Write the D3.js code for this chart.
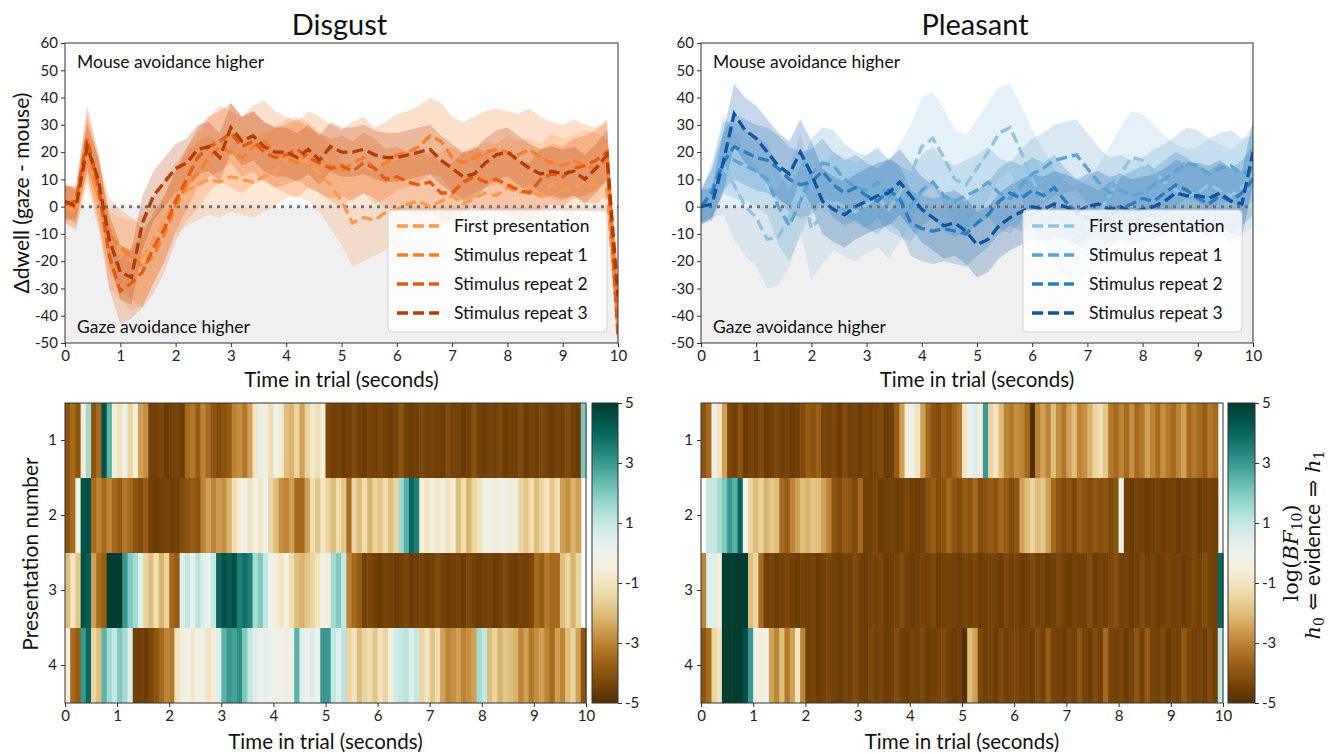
<!DOCTYPE html>
<html><head><meta charset="utf-8">
<script src="https://cdn.jsdelivr.net/npm/d3@7"></script>
<style>body{margin:0;background:#fff;} svg{display:block;}</style>
</head><body><svg id="c" width="1335" height="754"></svg>
<script>
// ---------------- DATA ----------------
const times = [0,0.2,0.4,0.6,0.8,1,1.2,1.4,1.6,1.8,2,2.2,2.4,2.6,2.8,3,3.2,3.4,3.6,3.8,4,4.2,4.4,4.6,4.8,5,5.2,5.4,5.6,5.8,6,6.2,6.4,6.6,6.8,7,7.2,7.4,7.6,7.8,8,8.2,8.4,8.6,8.8,9,9.2,9.4,9.6,9.8,10];
const seriesNames = ["First presentation","Stimulus repeat 1","Stimulus repeat 2","Stimulus repeat 3"];
const yTicksTop = [-50,-40,-30,-20,-10,0,10,20,30,40,50,60];
const xTicks = [0,1,2,3,4,5,6,7,8,9,10];
const rowLabels = [1,2,3,4];
const cbarTicks = [5,3,1,-1,-3,-5];
const disgustColors = ["#fd9a4e","#f77f2a","#e35a10","#b23c06"];
const pleasantColors = ["#91c3e0","#5ba3d3","#2d7dbc","#0c56a0"];

// Disgust
const disgustFirstMean = [0,-2,20,5,-15,-17,-20,-19,-12,-5,3,6,8,10,9,11,10,9,11,13,17,18,16,12,8,2,-6,-4,-5,-2,-1,1,2,0,2,4,1,3,5,4,7,5,6,4,8,6,7,9,8,6,-45];
const disgustFirstLo = [-6,-9,8,-8,-30,-34,-38,-36,-28,-20,-10,-7,-5,-3,-4,-2,-3,-4,-2,0,3,4,2,-2,-8,-14,-22,-20,-18,-16,-13,-11,-9,-10,-8,-6,-8,-6,-4,-5,-3,-5,-4,-6,-2,-4,-3,-1,-3,-5,-50];
const disgustFirstHi = [8,7,32,18,-2,-4,-5,-3,3,10,16,20,24,26,24,27,26,25,27,29,32,33,31,27,23,17,12,14,13,16,17,19,20,18,20,22,19,21,24,23,26,24,25,23,27,25,26,28,27,25,-38];
const disgustRep1Mean = [1,0,21,6,-10,-15,-18,-22,-18,-10,0,8,12,18,22,20,18,22,24,20,18,16,20,18,15,13,16,18,14,16,19,20,22,26,24,18,16,18,20,21,20,19,21,18,16,15,17,15,14,17,-40];
const disgustRep1Lo = [-6,-8,10,-6,-24,-30,-34,-37,-32,-24,-13,-5,-1,5,9,7,5,8,10,7,5,3,7,5,2,0,3,5,1,3,6,7,9,12,11,5,3,5,7,8,7,6,8,5,3,2,4,2,1,4,-48];
const disgustRep1Hi = [8,7,34,19,3,-1,-4,-8,-4,4,14,22,27,33,37,35,33,37,39,35,33,31,35,33,30,28,31,33,29,31,34,35,37,40,38,33,31,33,35,36,35,34,36,33,31,30,32,30,29,32,-32];
const disgustRep2Mean = [1,2,25,8,-18,-31,-28,-24,-15,-8,2,10,18,22,24,27,22,24,20,18,19,21,18,16,14,15,13,16,14,10,11,9,8,9,5,5,9,11,9,10,8,6,5,10,12,11,14,15,17,20,-48];
const disgustRep2Lo = [-5,-4,13,-4,-30,-43,-41,-37,-28,-20,-9,-1,7,11,13,16,11,13,9,7,8,10,7,5,3,4,2,5,3,-1,0,-2,-3,-2,-6,-6,-2,0,-2,-1,-3,-5,-6,-1,1,0,3,4,6,9,-50];
const disgustRep2Hi = [7,8,37,20,-6,-19,-15,-11,-2,4,13,21,29,33,35,38,33,35,31,29,30,32,29,27,25,26,24,27,25,21,22,20,19,20,16,16,20,22,20,21,19,17,16,21,23,22,25,26,28,31,-40];
const disgustRep3Mean = [2,0,22,10,-12,-24,-26,-6,4,9,14,16,21,22,18,29,24,26,22,20,20,18,21,17,22,20,20,21,19,18,18,19,20,21,17,14,11,12,16,19,20,17,14,12,13,12,13,10,14,19,-33];
const disgustRep3Lo = [-4,-6,14,2,-21,-34,-36,-16,-5,0,5,7,12,13,9,20,15,17,13,11,11,9,12,8,13,11,11,12,10,9,9,10,11,12,8,5,2,3,7,10,11,8,5,3,4,3,4,1,5,10,-40];
const disgustRep3Hi = [8,6,30,18,-3,-14,-16,4,13,18,23,25,30,31,27,38,33,35,31,29,29,27,30,26,31,29,29,30,28,27,27,28,29,30,26,23,20,21,25,28,29,26,23,21,22,21,22,19,23,28,-26];

// Pleasant
const pleasantFirstMean = [0,5,15,8,0,-4,-12,-11,-4,9,-8,-3,2,0,-2,1,3,-1,5,12,22,25,18,10,8,14,20,27,29,20,10,3,-4,-9,-11,-8,-3,4,12,18,17,13,9,6,4,5,8,6,4,7,12];
const pleasantFirstLo = [-6,-4,-3,-12,-18,-22,-30,-29,-22,-9,-27,-21,-16,-18,-20,-17,-15,-19,-13,-6,4,8,1,-7,-9,-3,3,10,13,4,-7,-14,-21,-26,-28,-25,-20,-13,-5,1,0,-4,-8,-11,-13,-12,-9,-11,-13,-10,-8];
const pleasantFirstHi = [6,14,34,28,20,15,6,7,14,27,10,15,20,18,16,19,21,17,23,30,40,42,36,28,26,32,38,44,45,37,28,21,14,9,7,10,15,22,29,35,34,30,26,23,21,22,25,23,21,24,30];
const pleasantRep1Mean = [0,6,18,17,15,13,10,0,-7,2,12,16,15,10,7,6,9,4,2,0,6,9,4,2,4,6,9,5,3,8,12,14,17,18,19,14,9,5,6,4,5,8,10,13,16,15,12,14,15,12,14];
const pleasantRep1Lo = [-6,-4,5,3,2,0,-3,-14,-20,-11,-1,3,2,-3,-6,-8,-4,-9,-11,-13,-7,-4,-9,-11,-9,-7,-4,-8,-10,-5,-1,1,4,5,6,1,-4,-8,-7,-9,-8,-5,-3,0,3,2,-1,1,2,-1,2];
const pleasantRep1Hi = [6,16,31,31,28,26,23,13,6,15,25,29,28,23,20,19,22,17,15,13,19,22,17,15,17,19,22,18,16,21,25,27,30,31,32,27,22,18,19,17,18,21,23,26,29,28,25,27,28,25,26];
const pleasantRep2Mean = [0,5,16,22,20,18,17,14,10,8,9,13,8,5,7,4,2,6,3,-6,-8,-9,-8,-9,-10,-6,-3,2,5,3,6,4,7,2,-2,-4,-6,-3,-1,1,3,2,5,8,6,3,1,4,2,5,10];
const pleasantRep2Lo = [-7,-4,6,10,8,6,5,2,-2,-4,-3,1,-4,-7,-5,-8,-10,-6,-9,-18,-20,-21,-20,-21,-22,-18,-15,-10,-7,-9,-6,-8,-5,-10,-14,-16,-18,-15,-13,-11,-9,-10,-7,-4,-6,-9,-11,-8,-10,-7,-3];
const pleasantRep2Hi = [6,14,27,34,32,30,29,26,22,20,21,25,20,17,19,16,14,18,15,6,4,3,4,3,2,6,9,14,17,15,18,16,19,14,10,8,6,9,11,13,15,14,17,20,18,15,13,16,14,17,22];
const pleasantRep3Mean = [0,1,16,34,28,25,20,15,12,20,12,2,-1,-3,0,2,4,5,9,4,-1,-4,-7,-6,-9,-14,-12,-7,-4,-2,0,-1,1,0,-2,0,1,-1,0,-2,-1,0,2,5,4,4,3,5,2,1,20];
const pleasantRep3Lo = [-6,-5,5,22,16,13,8,3,0,8,0,-10,-13,-15,-12,-10,-8,-7,-3,-8,-13,-16,-19,-18,-21,-26,-24,-19,-16,-14,-12,-13,-11,-12,-14,-12,-11,-13,-12,-14,-13,-12,-10,-7,-8,-8,-9,-7,-10,-11,8];
const pleasantRep3Hi = [6,7,27,45,40,37,32,27,24,32,24,14,11,9,12,14,16,17,21,16,11,8,5,6,3,-2,0,5,8,10,12,11,13,12,10,12,13,11,12,10,11,12,14,17,16,16,15,17,14,13,32];

// Heatmaps: log(BF10) per 0.1 s bin (100 bins), rows = presentation number
const binWidth = 0.1;
const disgustRow1 = [-4,-3.5,-4,-0.5,1.5,-4,-3.5,4.5,2.5,-0.5, -1,0,-1.5,-0.5,-2.5,-2.8,-4.5,-4.5,-4.3,-4.6, -4.5,-4.4,-4.6,-3.5,-3.2,-3.8,-3,-3.5,-4,-4.2, -4,-3.8,-3,-2.8,-3.2,-2.5,-1,0.3,-0.5,-1.2, 0,-0.8,-2,-2.2,-1.5,-2.5,-1.5,-0.8,-1.2,-0.5, -4.3,-4.5,-4.4,-4.6,-4.5,-4.2,-4.5,-4.6,-4.4,-4.5, -4.3,-4.5,-4.6,-4.4,-4.0,-4.5,-4.6,-4.5,-4.3,-4.5, -4.4,-4.5,-4.6,-4.2,-4.5,-4.4,-4.6,-4.5,-4.1,-4.5, -4.6,-4.4,-4.5,-4.3,-4.6,-4.5,-4.5,-4.2,-4.6,-4.4, -4.5,-4.3,-4.5,-4.6,-4.4,-4.5,-4.2,-4.5,-4.6,2];
const disgustRow2 = [-4,-3.5,0,4.5,4.5,-3.5,-3,-3.5,-3,-3.5, -3.8,-3.2,-3.5,-4,-4.2,-3.8,-4.5,-4.6,-4.5,-4.4, -4.6,-4.5,-4.2,-4,-3.8,-4,-3,-2.5,-3,-2.6, -2.8,-2.2,-1.2,-0.5,0,-1,-0.3,-0.8,0,-1.5, -2,-2.8,-3,-2.5,-3.5,-3.5,-2.5,-1.2,-1.8,-1, -1.5,-2,-1.2,-1.8,-3.5,-1.5,-2,-1.2,-2.2,-1.5, -1.8,-1.2,-2,-1.5,1.5,2.5,4,3.5,-0.5,-1, -0.3,-0.8,-0.5,-1,-0.6,-2,-1.2,-2.2,-1.5,-1, -0.2,0,-0.5,-0.3,0,-0.6,-0.2,-1.5,-1.8,-1.2, -2,-1.5,-1,-1.8,-1.2,-2.5,-2.8,-2.2,-2.5,null];
const disgustRow3 = [-2,-1,-1.8,4.5,4.2,-2.5,-3.5,-3.8,5,5, 5,3,2,1.5,0.5,-1.5,-2,-1.2,-2.2,-1.5, -3.5,-3.8,0.5,1,0.3,1.2,0.5,0.2,1,4, 4.5,4.2,4.5,3.5,3.8,3.5,1.5,2,1,0, -0.5,-1,-0.3,-1.2,-2,-2.2,-1.8,-1.5,-1,-0.3, -0.5,1.5,2,1,-3,-3.5,-3.8,-4.5,-4.3,-4.5, -4.6,-4.4,-4.5,-4.6,-4.5,-4.3,-4.6,-4.5,-4.4,-4.6, -4.5,-4.2,-4.5,-4.6,-4.5,-4.4,-4.6,-4.3,-4.5,-4.6, -4.5,-4.4,-4.6,-4.5,-4.2,-4.5,-4.6,-4.4,-4.5,-4.3, -3.5,-3.8,-3.2,-3.5,-3.5,-2,-1.5,-2.2,-1.5,null];
const disgustRow4 = [-0.5,-3.5,-3.8,3,4,-1.5,-2,2.5,1.5,1, 2,1.5,0.5,-4.5,-4.5,-4.6,-4.3,-4,-3.5,-3, -3.2,-1,-0.5,0,-0.8,-0.3,0,-1,-0.5,0.5, 2.5,3,2.8,3.2,2,1,0.5,0,0.3,0, -0.3,0,-0.5,0.2,2.5,0.5,0,0.5,0,3, 3,1,0.5,1.2,-1.5,-1,-2,-1.5,-1.2,-1.8, -1,-1.5,-0.5,0.8,1,1.2,0.5,1,-1.5,-1, -1.8,-1.2,-2.5,-3,-2.8,-2.5,-3,-2.8,-2.5,1.5, 1,-2,-1.5,-2.2,-1.8,-2,-2.2,-3,-2.5,-3.2, -2.8,-2.5,-3,-3.5,-2.5,-3,-2,-1.5,-2.5,-4];
const pleasantRow1 = [-4,-3.5,0,-1,-2.5,-4.3,-4.5,-4,-4.6,-4.4, -4.5,-4.2,-4.6,-4.5,-4.3,-4.5,-4.4,-4.6,-4.5,-4.2, -3.8,-4,-3.7,-4.4,-4.5,-4.3,-4.6,-4.2,-4.5,-4.4, -4.6,-4.3,-4.5,-4.4,-4.2,-4.6,-4.5,-3.8,-2.5,-0.5, 0,-1,-2.5,-3.5,-4,-4.2,-3.8,-4,-3.6,-3.2, -1,0,0.5,-0.5,3,-1.5,-1,-2,-3,-3.2, -2.8,-3,-3.5,-5,-3,-2.5,-3,-2,-2.8,-3.2, -2.5,-2,-3,-2.8,-2.2,-1.5,-1.2,-1.8,-3.2,-3.5, -3,-3.5,-2.8,-3.5,-3.2,-2.5,-3,-3.5,-2.8,-3.2, -3.5,-3,-2.5,-3.5,-3.2,-3.5,-3.8,-3.2,-3.5,null];
const pleasantRow2 = [null,1,1,1.5,2,3,2.5,4,0,-1.5, -2,-1.5,-2.2,-1.8,-2,-3.5,-3.8,-3,-2.5,-2, -2.2,-1.8,-2,-2.5,-3,-4,-4.2,-3.8,-4,-4.3, -3.5,-4.5,-4.5,-4.3,-4.6,-4.5,-4.4,-4.6,-4.5,-4.3, -4.5,-4.6,-4.5,-4,-3.8,-4.2,-4,-3.5,-4,-4.2, -3.8,-4,-3.5,-4.2,-4,-3.8,-4,-3.5,-3.8,-4.2, -4,-2.5,-2,-1.5,-2,-1.8,-2.5,-3.5,-4,-4.2, -4,-4.3,-3.8,-4,-4.2,-3.9,-4.1,-4,-4.3,-4, 0,-4.5,-4.6,-4.4,-4.5,-4.6,-4.5,-4.4,-4.6,-4.5, -4.4,-4.6,-4.5,-4.5,-4.3,-4.6,-4.5,-4.4,-4.5,null];
const pleasantRow3 = [-3,0.5,0.5,-0.5,5,5,5,5,5,-2, -1.5,-3.5,-4.5,-4.4,-4.6,-4.5,-4.3,-4.5,-4.6,-4.4, -4.5,-4.4,-4.6,-4.5,-4.3,-4.5,-4.6,-4.4,-4.5,-4.2, -4.5,-4.6,-4.4,-4.5,-4.3,-4.6,-4.5,-4.4,-4.2,-4.5, -4.6,-4.5,-4.4,-4.5,-4.3,-4.6,-4.5,-4.4,-4.5,-4.6, -4.4,-4.5,-4.3,-4.6,-4.5,-4.4,-4.5,-4.6,-4.3,-4.5, -4.4,-4.6,-4.5,-4.2,-4.5,-4.4,-4.6,-4.5,-4.3,-4.5, -4.6,-4.4,-4.5,-4.5,-4.2,-4.6,-4.4,-4.5,-4.3,-4.1, -4.5,-4.4,-4.6,-4.5,-4.2,-4.5,-4.4,-4.6,-4.5,-4.3, -4.5,-4.4,-4.6,-4.5,-4.3,-4.5,-4.2,-4.4,-4.5,4];
const pleasantRow4 = [-4,-3.5,-1.5,-1,5,5,5,5,4.5,3, 0,-0.5,0,-2.5,-3,-2,-3.2,-2.5,-1,-3, -4.5,-4.4,-4.6,-4.5,-4.3,-4.5,-4.6,-4.4,-4.5,-4.2, -4.5,-4.6,-4.3,-4.5,-4.4,-4.6,-4.5,-4.2,-4.5,-4.6, -4.4,-4.5,-4.3,-4.6,-4.5,-4.4,-4.2,-4.5,-4.6,-4.5, -5,-2,-2.5,-4.3,-4.5,-4.4,-4.6,-4.2,-4.5,-4.4, -4.3,-4.5,-4.4,-4.6,-4.2,-4.5,-3.8,-4.4,-4.5,-4.6, -4.3,-4.5,-4,-4.4,-4.6,-4.2,-4.5,-3.5,-4.4,-4.5, -4.3,-4.6,-4.4,-4,-4.5,-3.8,-4.4,-4.5,-4.2,-4.6, -4.4,-4.5,-3.9,-4.3,-4.5,-4.4,-4.6,-4.2,-4.5,1];

// ---------------- DRAW ----------------
const FONT = 'Lato, "Open Sans", "DejaVu Sans", sans-serif';
const SERIF = '"DejaVu Serif", "Liberation Serif", serif';
const svg = d3.select('#c').style('font-family', FONT);

function styleAxis(g, fs) {
  g.select('.domain').remove();
  g.selectAll('.tick line').attr('stroke', '#333').attr('stroke-width', 1);
  g.selectAll('.tick text').attr('font-size', fs || 15).attr('fill', '#222').attr('font-family', FONT);
}

function drawLinePanel(o) {
  const x = d3.scaleLinear().domain([0, 10]).range([o.x0, o.x1]);
  const y = d3.scaleLinear().domain([-50, 60]).range([o.y1, o.y0]);
  const g = svg.append('g');
  const clipId = 'clip' + o.id;
  svg.append('clipPath').attr('id', clipId).append('rect')
    .attr('x', o.x0).attr('y', o.y0).attr('width', o.x1 - o.x0).attr('height', o.y1 - o.y0);
  g.append('rect').attr('x', o.x0).attr('y', y(0)).attr('width', o.x1 - o.x0).attr('height', y(-50) - y(0))
    .attr('fill', '#f0f0f0');
  const pg = g.append('g').attr('clip-path', `url(#${clipId})`);
  o.series.forEach((s, k) => {
    pg.append('path').datum(times)
      .attr('d', d3.area().x(t => x(t)).y0((t, i) => y(s.lo[i])).y1((t, i) => y(s.hi[i])))
      .attr('fill', o.colors[k]).attr('fill-opacity', 0.24).attr('stroke', 'none');
  });
  pg.append('line').attr('x1', x(0)).attr('x2', x(10)).attr('y1', y(0)).attr('y2', y(0))
    .attr('stroke', '#6e6e6e').attr('stroke-width', 3).attr('stroke-dasharray', '3,5');
  o.series.forEach((s, k) => {
    pg.append('path').datum(times)
      .attr('d', d3.line().x(t => x(t)).y((t, i) => y(s.mean[i])))
      .attr('fill', 'none').attr('stroke', o.colors[k]).attr('stroke-width', 3.3)
      .attr('stroke-dasharray', '11,5');
  });
  g.append('text').attr('x', o.x0 + 12).attr('y', 68).attr('font-size', 17.5).attr('fill', '#111')
    .text('Mouse avoidance higher');
  g.append('text').attr('x', o.x0 + 12).attr('y', 333).attr('font-size', 17.5).attr('fill', '#111')
    .text('Gaze avoidance higher');
  // legend
  const lw = 219, lh = 122;
  const lx = o.x1 - 11 - lw, ly = o.y1 - 11 - lh;
  const lg = g.append('g');
  lg.append('rect').attr('x', lx).attr('y', ly).attr('width', lw).attr('height', lh).attr('rx', 4)
    .attr('fill', '#fff').attr('fill-opacity', 0.82).attr('stroke', '#d4d4d4');
  seriesNames.forEach((nm, k) => {
    const cy = ly + 16 + k * 29;
    lg.append('line').attr('x1', lx + 9).attr('x2', lx + 51).attr('y1', cy).attr('y2', cy)
      .attr('stroke', o.colors[k]).attr('stroke-width', 3.3).attr('stroke-dasharray', '11,5');
    lg.append('text').attr('x', lx + 66).attr('y', cy + 6).attr('font-size', 17.5).attr('fill', '#111').text(nm);
  });
  // axes
  const ax = g.append('g').attr('transform', `translate(0,${o.y1})`)
    .call(d3.axisBottom(x).tickValues(xTicks).tickSize(4).tickPadding(3).tickFormat(d => String(d)));
  styleAxis(ax);
  const ay = g.append('g').attr('transform', `translate(${o.x0},0)`)
    .call(d3.axisLeft(y).tickValues(yTicksTop).tickSize(4).tickPadding(3).tickFormat(d => String(d)));
  styleAxis(ay);
  g.append('rect').attr('x', o.x0).attr('y', o.y0).attr('width', o.x1 - o.x0).attr('height', o.y1 - o.y0)
    .attr('fill', 'none').attr('stroke', '#333').attr('stroke-width', 1);
  // titles
  g.append('text').attr('x', (o.x0 + o.x1) / 2 - 2).attr('y', 35).attr('text-anchor', 'middle')
    .attr('font-size', 29).attr('fill', '#111').text(o.title);
  g.append('text').attr('x', (o.x0 + o.x1) / 2).attr('y', 387).attr('text-anchor', 'middle')
    .attr('font-size', 20.5).attr('fill', '#111').text('Time in trial (seconds)');
}

function drawHeatPanel(o) {
  const x = d3.scaleLinear().domain([0, 10]).range([o.x0, o.x1]);
  const y = d3.scaleBand().domain(rowLabels).range([o.y0, o.y1]).padding(0);
  const color = v => d3.interpolateBrBG((v + 5) / 10);
  const g = svg.append('g');
  o.rows.forEach((row, r) => {
    row.forEach((v, i) => {
      if (v === null) return;
      const xa = x(i * binWidth), xb = x((i + 1) * binWidth);
      g.append('rect').attr('x', xa).attr('y', y(rowLabels[r]))
        .attr('width', xb - xa + 0.6).attr('height', y.bandwidth())
        .attr('fill', color(v));
    });
  });
  const ax = g.append('g').attr('transform', `translate(0,${o.y1})`)
    .call(d3.axisBottom(x).tickValues(xTicks).tickSize(4).tickPadding(3).tickFormat(d => String(d)));
  styleAxis(ax);
  const ay = g.append('g').attr('transform', `translate(${o.x0},0)`)
    .call(d3.axisLeft(y).tickSize(4).tickPadding(4).tickFormat(d => String(d)));
  styleAxis(ay);
  g.append('rect').attr('x', o.x0).attr('y', o.y0).attr('width', o.x1 - o.x0).attr('height', o.y1 - o.y0)
    .attr('fill', 'none').attr('stroke', '#333').attr('stroke-width', 1);
  g.append('text').attr('x', (o.x0 + o.x1) / 2).attr('y', 749).attr('text-anchor', 'middle')
    .attr('font-size', 20.5).attr('fill', '#111').text('Time in trial (seconds)');
  // colorbar
  const gid = 'grad' + o.id;
  const grad = svg.append('defs').append('linearGradient').attr('id', gid)
    .attr('x1', 0).attr('x2', 0).attr('y1', 1).attr('y2', 0);
  d3.range(0, 1.0001, 0.02).forEach(t => grad.append('stop').attr('offset', t).attr('stop-color', d3.interpolateBrBG(t)));
  g.append('rect').attr('x', o.cx0).attr('y', o.y0).attr('width', o.cx1 - o.cx0).attr('height', o.y1 - o.y0)
    .attr('fill', `url(#${gid})`).attr('stroke', '#333').attr('stroke-width', 1);
  const cy = d3.scaleLinear().domain([-5, 5]).range([o.y1, o.y0]);
  const ac = g.append('g').attr('transform', `translate(${o.cx1},0)`)
    .call(d3.axisRight(cy).tickValues(cbarTicks).tickSize(4).tickPadding(3).tickFormat(d => String(d)));
  styleAxis(ac);
}

const disgustSeries = [
  {mean: disgustFirstMean, lo: disgustFirstLo, hi: disgustFirstHi},
  {mean: disgustRep1Mean, lo: disgustRep1Lo, hi: disgustRep1Hi},
  {mean: disgustRep2Mean, lo: disgustRep2Lo, hi: disgustRep2Hi},
  {mean: disgustRep3Mean, lo: disgustRep3Lo, hi: disgustRep3Hi}
];
const pleasantSeries = [
  {mean: pleasantFirstMean, lo: pleasantFirstLo, hi: pleasantFirstHi},
  {mean: pleasantRep1Mean, lo: pleasantRep1Lo, hi: pleasantRep1Hi},
  {mean: pleasantRep2Mean, lo: pleasantRep2Lo, hi: pleasantRep2Hi},
  {mean: pleasantRep3Mean, lo: pleasantRep3Lo, hi: pleasantRep3Hi}
];

drawLinePanel({id: 'D', x0: 65, x1: 618, y0: 43, y1: 343, series: disgustSeries, colors: disgustColors, title: 'Disgust'});
drawLinePanel({id: 'P', x0: 701, x1: 1253, y0: 43, y1: 343, series: pleasantSeries, colors: pleasantColors, title: 'Pleasant'});
drawHeatPanel({id: 'D', x0: 65, x1: 586, y0: 403, y1: 703, cx0: 592, cx1: 618,
  rows: [disgustRow1, disgustRow2, disgustRow3, disgustRow4]});
drawHeatPanel({id: 'P', x0: 701, x1: 1223, y0: 403, y1: 703, cx0: 1228, cx1: 1255,
  rows: [pleasantRow1, pleasantRow2, pleasantRow3, pleasantRow4]});

// y labels
svg.append('text').attr('transform', 'translate(29,193) rotate(-90)').attr('text-anchor', 'middle')
  .attr('font-size', 21).attr('fill', '#111').text('\u0394dwell (gaze - mouse)');
svg.append('text').attr('transform', 'translate(38,554) rotate(-90)').attr('text-anchor', 'middle')
  .attr('font-size', 21).attr('fill', '#111').text('Presentation number');

// colorbar label (right)
const l1 = svg.append('text').attr('transform', 'translate(1298,553) rotate(-90)').attr('text-anchor', 'middle')
  .attr('font-size', 21).attr('fill', '#111').attr('font-family', SERIF);
l1.append('tspan').text('log(');
l1.append('tspan').attr('font-style', 'italic').text('BF');
l1.append('tspan').attr('font-size', 14).attr('dy', 4).text('10');
l1.append('tspan').attr('dy', -4).text(')');
const l2 = svg.append('text').attr('transform', 'translate(1320,545) rotate(-90)').attr('text-anchor', 'middle')
  .attr('font-size', 21).attr('fill', '#111');
l2.append('tspan').attr('font-family', SERIF).attr('font-style', 'italic').text('h');
l2.append('tspan').attr('font-family', SERIF).attr('font-size', 14).attr('dy', 4).text('0');
l2.append('tspan').attr('font-family', SERIF).attr('dy', -4).text(' \u21D0 ');
l2.append('tspan').text('evidence');
l2.append('tspan').attr('font-family', SERIF).text(' \u21D2 ');
l2.append('tspan').attr('font-family', SERIF).attr('font-style', 'italic').text('h');
l2.append('tspan').attr('font-family', SERIF).attr('font-size', 14).attr('dy', 4).text('1');
</script>
</body></html>
